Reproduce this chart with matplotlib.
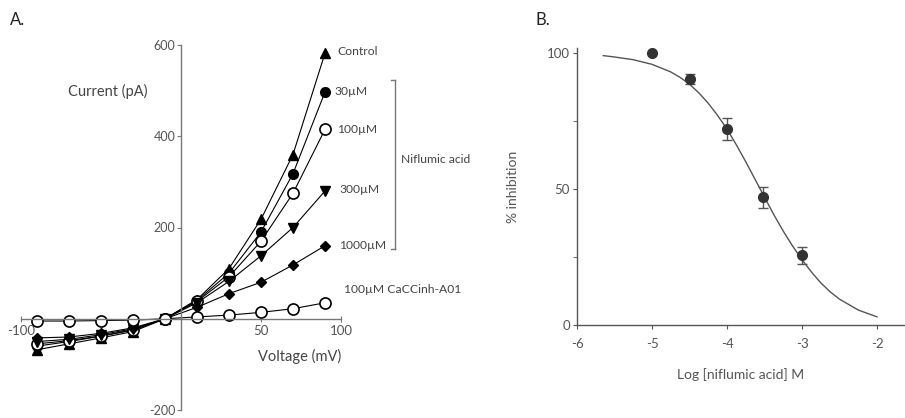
import numpy as np
import matplotlib.pyplot as plt

plt.rcParams["font.family"] = ["Lato", "DejaVu Sans"]
plt.rcParams["axes.unicode_minus"] = False

# --- Panel A: I-V curves ---
voltage = [-90, -70, -50, -30, -10, 10, 30, 50, 70, 90]
control = [-68, -55, -42, -28, 0, 42, 110, 218, 360, 582]
nfa_30 = [-60, -50, -38, -25, 0, 40, 100, 190, 318, 497]
nfa_100 = [-55, -48, -38, -24, 0, 38, 92, 170, 275, 415]
nfa_300 = [-50, -45, -35, -22, 0, 35, 82, 138, 200, 280]
nfa_1000 = [-42, -40, -32, -20, 0, 25, 55, 80, 118, 160]
cacc_inh = [-5, -5, -4, -3, 0, 4, 8, 14, 22, 35]

series_labels = ["Control", "30µM", "100µM", "300µM", "1000µM", "100µM CaCCinh-A01"]

# --- Panel B: dose response ---
log_conc = [-5.0, -4.5, -4.0, -3.52, -3.0]
inhibition = [100, 90.3, 72, 47, 25.6]
inhibition_err = [0, 1.8, 3.9, 3.9, 3.2]

# fitted curve
fit_x = [-5.65, -5.5, -5.25, -5.0, -4.75, -4.625, -4.5, -4.375, -4.25, -4.125,
         -4.0, -3.875, -3.75, -3.625, -3.5, -3.375, -3.25, -3.125, -3.0,
         -2.875, -2.75, -2.625, -2.5, -2.25, -2.0]
fit_y = [99.0, 98.5, 97.5, 95.8, 93.0, 91.0, 88.5, 85.3, 81.5, 77.0,
         72.0, 66.2, 60.0, 53.5, 47.0, 40.5, 34.5, 29.0, 24.0,
         19.5, 15.5, 12.2, 9.5, 5.5, 3.0]

txt_grey = "#555555"
fig = plt.figure(figsize=(9.05, 4.18), dpi=100)

# Panel A
axA = fig.add_axes([21 / 905, (418 - 410) / 418, 320 / 905, 365 / 418])
styles = [
    dict(marker="^", mfc="black", ms=7),
    dict(marker="o", mfc="black", ms=7),
    dict(marker="o", mfc="white", ms=8, mew=1.2),
    dict(marker="v", mfc="black", ms=7),
    dict(marker="D", mfc="black", ms=5),
    dict(marker="o", mfc="white", ms=8, mew=1.2),
]
all_series = [control, nfa_30, nfa_100, nfa_300, nfa_1000, cacc_inh]
for vals, st in zip(all_series, styles):
    axA.plot(voltage, vals, color="black", lw=0.8, mec="black", clip_on=False, **st)

axA.set_xlim(-100, 100)
axA.set_ylim(-200, 600)
axA.spines["left"].set_position(("data", 0))
axA.spines["bottom"].set_position(("data", 0))
axA.spines["top"].set_visible(False)
axA.spines["right"].set_visible(False)
for sp in ("left", "bottom"):
    axA.spines[sp].set_color("#777777")
    axA.spines[sp].set_linewidth(1.0)
axA.set_yticks([-200, 200, 400, 600])
axA.set_xticks([-100, 50, 100])
axA.tick_params(axis="y", direction="out", length=3, color="#777777",
                labelsize=9, labelcolor=txt_grey, pad=1)
axA.tick_params(axis="x", direction="inout", length=5, color="#777777",
                labelsize=9.5, labelcolor=txt_grey, pad=2)
axA.set_facecolor("none")

# series labels at line ends
label_pos = [(98, 585), (96, 498), (97.5, 415), (99, 284), (99, 160), (102, 65)]
for lab, (lx, ly) in zip(series_labels, label_pos):
    axA.text(lx, ly, lab, fontsize=8.7, color="#444444", ha="left", va="center",
             clip_on=False)

# bracket for niflumic acid
bx, btop, bbot = 134, 524, 153
axA.plot([bx, bx], [btop, bbot], color="#777777", lw=1, clip_on=False)
axA.plot([bx - 3, bx], [btop, btop], color="#777777", lw=1, clip_on=False)
axA.plot([bx - 3, bx], [bbot, bbot], color="#777777", lw=1, clip_on=False)
axA.text(137.5, 350, "Niflumic acid", fontsize=8.7, color="#444444", ha="left",
         va="center", clip_on=False)

axA.text(-45.5, 498, "Current (pA)", fontsize=10.5, color="#444444", ha="center",
         va="center")
axA.text(74, -83, "Voltage (mV)", fontsize=10.5, color="#444444", ha="center",
         va="center")
fig.text(10 / 905, 1 - 20 / 418, "A.", fontsize=12, color="#222222", va="center")

# Panel B
axB = fig.add_axes([577 / 905, (418 - 325) / 418, 327 / 905, 277 / 418])
axB.plot(fit_x, fit_y, color="#555555", lw=1.0)
axB.errorbar(log_conc, inhibition, yerr=inhibition_err, fmt="o", color="#333333",
             ms=7, capsize=3.5, elinewidth=1, capthick=1, ecolor="#555555")
axB.set_xlim(-6, -1.64)
axB.set_ylim(0, 101.8)
axB.set_xticks([-6, -5, -4, -3, -2])
axB.set_yticks([0, 50, 100])
axB.set_yticks([25, 75], minor=True)
axB.spines["top"].set_visible(False)
axB.spines["right"].set_visible(False)
for sp in ("left", "bottom"):
    axB.spines[sp].set_color("#555555")
    axB.spines[sp].set_linewidth(1.0)
axB.tick_params(axis="both", which="major", direction="out", length=3,
                color="#555555", labelsize=9.5, labelcolor=txt_grey, pad=2)
axB.tick_params(axis="x", which="major", pad=6)
axB.tick_params(axis="y", which="minor", direction="out", length=3, color="#555555")
axB.set_ylabel("% inhibition", fontsize=10, color=txt_grey, labelpad=20)
axB.set_xlabel("Log [niflumic acid] M", fontsize=10, color=txt_grey, labelpad=13)
fig.text(535 / 905, 1 - 20 / 418, "B.", fontsize=12, color="#222222", va="center")

fig.savefig("out.png", dpi=100)
